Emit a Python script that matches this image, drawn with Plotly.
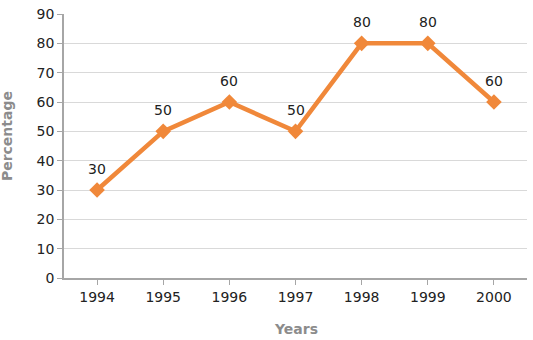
import plotly.graph_objects as go

years = ["1994", "1995", "1996", "1997", "1998", "1999", "2000"]
percentage = [30, 50, 60, 50, 80, 80, 60]
y_ticks = [0, 10, 20, 30, 40, 50, 60, 70, 80, 90]

orange = "#F0883A"
font_family = "DejaVu Sans, Verdana, sans-serif"

fig = go.Figure()
fig.add_trace(go.Scatter(
    x=years, y=percentage,
    mode="lines+markers",
    line=dict(color=orange, width=4.5),
    marker=dict(symbol="diamond", size=12, color=orange),
    hoverinfo="x+y",
    showlegend=False,
))

for i, y in enumerate(percentage):
    fig.add_annotation(x=i, y=y, xref="x", yref="y", text=str(y), showarrow=False,
                       yshift=21, font=dict(size=14, color="#222222", family=font_family))

# axis titles placed as annotations
fig.add_annotation(text="<b>Years</b>", xref="paper", yref="paper", x=0.501, y=-0.192,
                   xanchor="center", yanchor="middle", showarrow=False,
                   font=dict(size=14, color="#8c8c8c", family=font_family))
fig.add_annotation(text="<b>Percentage</b>", xref="paper", yref="paper", x=-0.123, y=0.5376,
                   xanchor="center", yanchor="middle", textangle=-90, showarrow=False,
                   font=dict(size=14, color="#8c8c8c", family=font_family))

fig.update_layout(
    width=533, height=340,
    margin=dict(l=64, r=6, t=12, b=62),
    paper_bgcolor="white", plot_bgcolor="white",
    font=dict(family=font_family, size=14, color="#222222"),
)
fig.update_xaxes(
    type="category", range=[-0.5, 6.5],
    showgrid=False, showline=True, linecolor="#a6a6a6", linewidth=1.5,
    ticks="outside", ticklen=5, tickcolor="#a6a6a6",
)
fig.update_yaxes(
    range=[0, 90], tickvals=y_ticks,
    showgrid=True, gridcolor="#d9d9d9", gridwidth=1,
    showline=True, linecolor="#a6a6a6", linewidth=1.5,
    ticks="outside", ticklen=5, tickcolor="#a6a6a6",
    zeroline=False,
)

fig.write_html("out.html")
